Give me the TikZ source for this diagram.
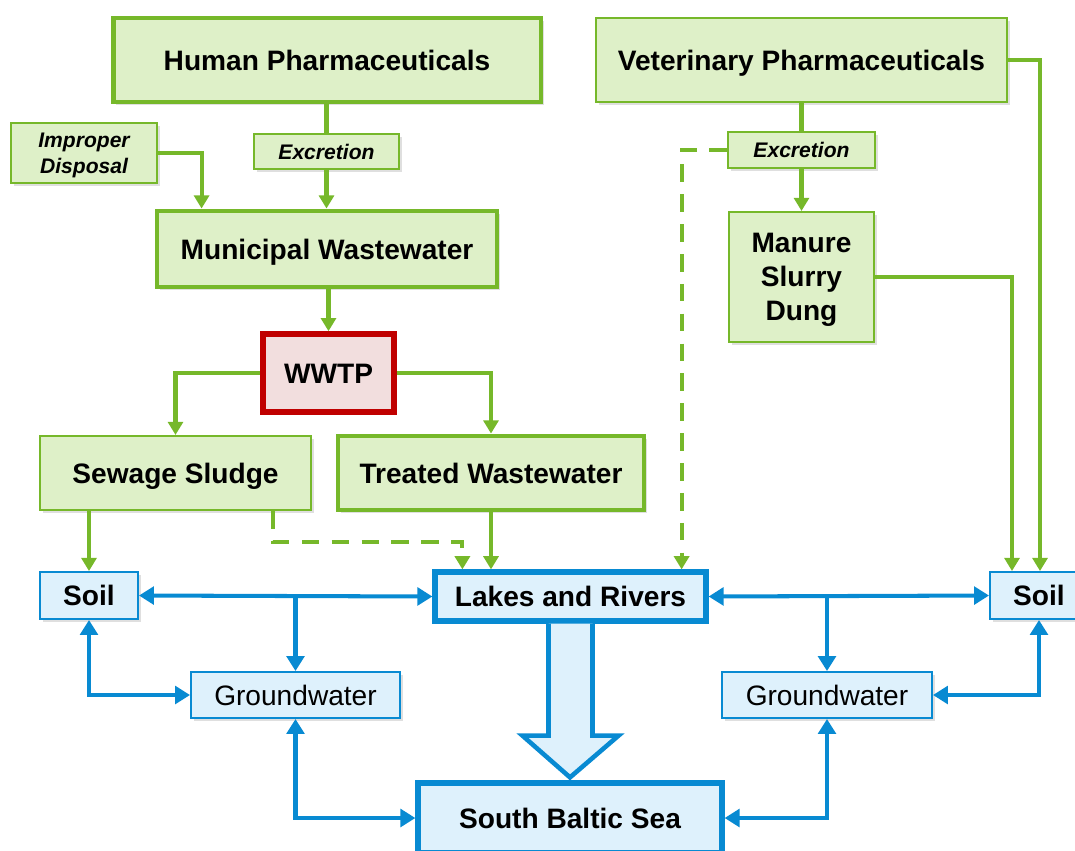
\documentclass[tikz,border=0pt]{standalone}
\usepackage{fontspec}
\setmainfont{Liberation Sans}
\usetikzlibrary{arrows.meta,calc,shadows}

\definecolor{leafline}{RGB}{118,184,42}
\definecolor{leaffill}{RGB}{222,240,200}
\definecolor{waterline}{RGB}{8,138,210}
\definecolor{waterfill}{RGB}{222,241,252}
\definecolor{plantline}{RGB}{192,0,0}
\definecolor{plantfill}{RGB}{242,222,222}

\tikzset{
  basebox/.style={rectangle, inner sep=0pt, align=center,
    font=\bfseries\fontsize{16}{19.3}\selectfont,
    text height=11.5pt, text depth=0pt,
    drop shadow={shadow xshift=1.5pt, shadow yshift=-1.5pt, opacity=0.25}},
  multi/.style={text height={}, text depth=-1.5pt},
  greenbox/.style={basebox, draw=leafline, fill=leaffill, line width=1.2pt},
  greenthick/.style={greenbox, line width=2.8pt},
  smallgreen/.style={greenbox, font=\bfseries\itshape\fontsize{12}{14.7}\selectfont, text height=8.6pt},
  waterbox/.style={basebox, draw=waterline, fill=waterfill, line width=1.1pt},
  waterthick/.style={waterbox, line width=3pt},
  plantbox/.style={basebox, draw=plantline, fill=plantfill, line width=3.2pt},
  gflow/.style={draw=leafline, line width=2.3pt},
  bflow/.style={draw=waterline, line width=2.3pt, >={Triangle[width=10pt,length=8.5pt]}},
  maybe/.style={gflow, dash pattern=on 10pt off 7pt},
  >={Triangle[width=8.5pt,length=7.5pt]}
}

\begin{document}
\begin{tikzpicture}[x=0.02cm, y=-0.02cm]
  \useasboundingbox (0,0) rectangle (1075,850);
  \clip (0,0) rectangle (1075,850);

  % sources
  \node[greenthick, minimum width=8.56cm, minimum height=1.68cm] (hp) at (327,60) {Human Pharmaceuticals};
  \node[greenbox, minimum width=8.22cm, minimum height=1.68cm] (vp) at (801.5,60) {Veterinary Pharmaceuticals};
  \node[smallgreen, multi, minimum width=2.92cm, minimum height=1.2cm] (imp) at (84,153) {Improper\\Disposal};
  \node[smallgreen, minimum width=2.9cm, minimum height=0.7cm] (exl) at (326.5,151.5) {Excretion};
  \node[smallgreen, minimum width=2.94cm, minimum height=0.72cm] (exr) at (801.5,150) {Excretion};

  % wastewater path
  \node[greenthick, minimum width=6.8cm, minimum height=1.52cm] (mun) at (327,249) {Municipal Wastewater};
  \node[plantbox, minimum width=2.62cm, minimum height=1.56cm] (wwtp) at (328.5,373) {WWTP};
  \node[greenbox, minimum width=5.42cm, minimum height=1.48cm] (sludge) at (175.5,473) {Sewage Sludge};
  \node[greenthick, minimum width=6.12cm, minimum height=1.48cm] (treated) at (491,473) {Treated Wastewater};
  \node[greenbox, multi, text depth=-3pt, minimum width=2.9cm, minimum height=2.6cm] (manure) at (801.5,277) {Manure\\Slurry\\Dung};

  % environment
  \node[waterbox, minimum width=1.96cm, minimum height=0.94cm] (soilL) at (89,595.5) {Soil};
  \node[waterthick, minimum width=5.42cm, minimum height=0.98cm] (lakes) at (570.5,596.5) {Lakes and Rivers};
  \node[waterbox, minimum width=1.96cm, minimum height=0.94cm] (soilR) at (1039,595.5) {Soil};
  \node[waterbox, font=\fontsize{16}{19.3}\selectfont, minimum width=4.18cm, minimum height=0.92cm] (gwL) at (295.5,695) {Groundwater};
  \node[waterbox, font=\fontsize{16}{19.3}\selectfont, minimum width=4.2cm, minimum height=0.92cm] (gwR) at (827,695) {Groundwater};
  \node[waterthick, minimum width=6.08cm, minimum height=1.4cm] (sea) at (570,818) {South Baltic Sea};

  % green flows
  \draw[gflow] (hp.south -| exl.north) -- (exl.north);
  \draw[gflow, ->] (exl.south) -- (exl.south |- mun.north);
  \draw[gflow, ->] (imp.east) -| ($(mun.north west)+(47,0)$);
  \draw[gflow, ->] (mun.south -| wwtp.north) -- (wwtp.north);
  \draw[gflow, ->] (wwtp.west) -| (sludge.north);
  \draw[gflow, ->] (wwtp.east) -| (treated.north);
  \draw[gflow, ->] (soilL.north |- sludge.south) -- (soilL.north);
  \draw[maybe, ->] ($(sludge.south east)+(-39,0)$) -- ++(0,31) -| ($(lakes.north west)+(30,0)$);
  \draw[gflow, ->] (treated.south) -- (treated.south |- lakes.north);
  \draw[gflow] (vp.south -| exr.north) -- (exr.north);
  \draw[gflow, ->] (exr.south) -- (exr.south |- manure.north);
  \draw[maybe, ->] (exr.west) -| ($(lakes.north east)+(-27,0)$);
  \draw[gflow, ->] (manure.east) -| ($(soilR.north)+(-27,0)$);
  \draw[gflow, ->] (vp.east) -| ($(soilR.north)+(1,0)$);

  % blue flows
  \draw[bflow, <->] (soilL.east) -- (lakes.west);
  \draw[bflow, ->] (gwL.north |- lakes.west) -- (gwL.north);
  \draw[bflow, <->] (soilL.south) |- (gwL.west);
  \draw[bflow, <->] (gwL.south) |- (sea.west);
  \draw[bflow, <->] (lakes.east) -- (soilR.west);
  \draw[bflow, ->] (gwR.north |- lakes.east) -- (gwR.north);
  \draw[bflow, <->] (soilR.south) |- (gwR.east);
  \draw[bflow, <->] (gwR.south) |- (sea.east);

  % big arrow to the sea
  \draw[waterline, fill=waterfill, line width=2.6pt, line join=miter]
    ($(lakes.south)+(-22,0)$) -- ($(lakes.south)+(-22,112)$) -- ($(lakes.south)+(-48,112)$)
    -- ($(sea.north)+(0,-3)$) -- ($(lakes.south)+(48,112)$) -- ($(lakes.south)+(22,112)$)
    -- ($(lakes.south)+(22,0)$);
\end{tikzpicture}
\end{document}
